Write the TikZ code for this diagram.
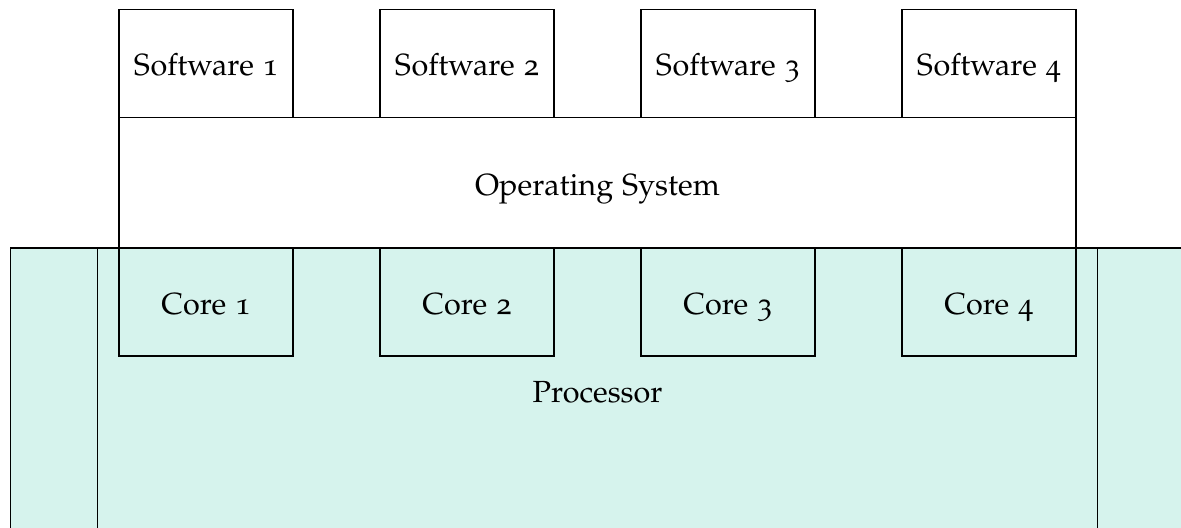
\documentclass[tikz,border=0pt]{standalone}
\usepackage[T1]{fontenc}
\usepackage[osf]{mathpazo}
\usepackage{tikz}
\usetikzlibrary{positioning}
\definecolor{procfill}{RGB}{214,243,237}
\tikzset{%
	software/.style = {draw, rectangle, minimum width=2cm, minimum height=1.24cm, outer sep=0pt, text height=9pt, text depth=1pt, text centered, anchor=south west},
	opsys/.style    = {draw, rectangle, minimum width=11cm, minimum height=1.5cm, outer sep=0pt, text height=9pt, text depth=1pt, text centered, anchor=south west},
	core/.style     = {draw, fill=procfill, rectangle, minimum width=2cm, minimum height=1.24cm, outer sep=0pt, text height=9pt, text depth=1pt, text centered, anchor=north west},
}

\begin{document}
\begin{tikzpicture}[line width=0.45pt]
	
	\clip (-1.368,-3.218) rectangle (12.207,2.851);  % picture frame
	
	% processor
	\draw[fill=procfill] (-1.25,0) rectangle (12.25,-3.6);
	\draw (-0.25,0) rectangle (11.25,-3.6);
	\node[anchor=base] (proc) at (5.5,-1.78) {Processor};
	
	\node[core] (core1) at (0,0) {Core 1};
	\node[core] (core2) at (3,0) {Core 2};
	\node[core] (core3) at (6,0) {Core 3};
	\node[core] (core4) at (9,0) {Core 4};
	
	% operating system
	\node[opsys] (os) at (0,0) {Operating System};
	
	\node[software] (sw1) at (0,1.5) {Software 1};
	\node[software] (sw2) at (3,1.5) {Software 2};
	\node[software] (sw3) at (6,1.5) {Software 3};
	\node[software] (sw4) at (9,1.5) {Software 4};
	
\end{tikzpicture}
\end{document}
